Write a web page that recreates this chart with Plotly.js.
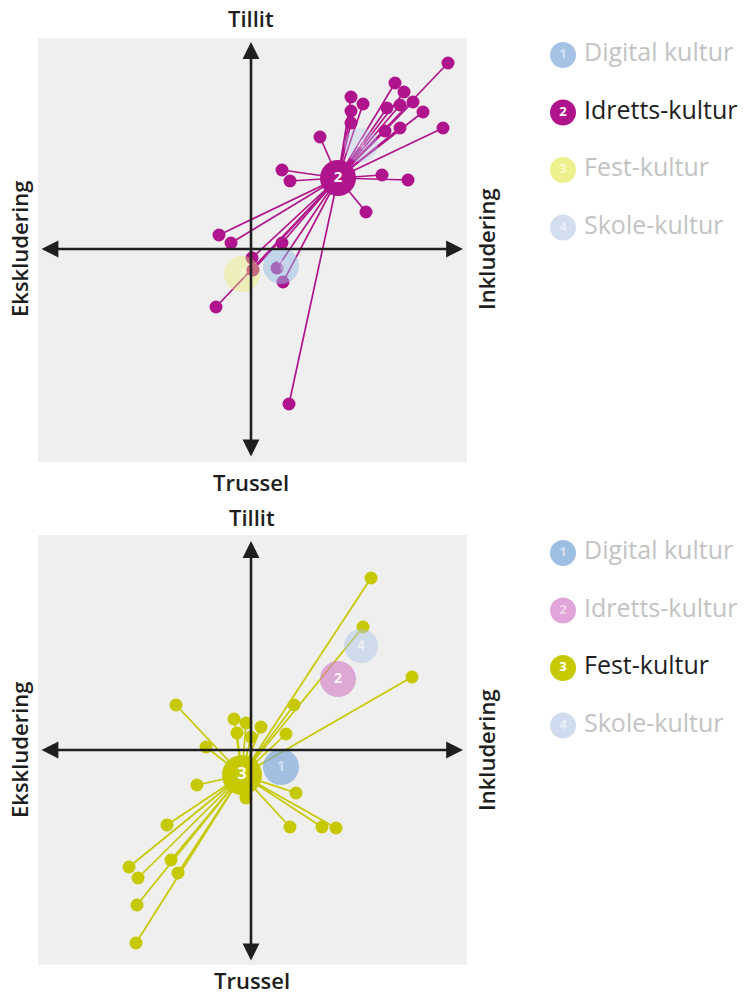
<!DOCTYPE html>
<html>
<head>
<meta charset="utf-8">
<script src="https://cdn.plot.ly/plotly-3.0.1.min.js"></script>
<style>html,body{margin:0;padding:0;background:#fff;}#chart{width:756px;height:997px;}</style>
</head>
<body>
<div id="chart"></div>
<script>
// ---------- DATA ----------
const categories = ['Digital kultur', 'Idretts-kultur', 'Fest-kultur', 'Skole-kultur'];
const categoryNumbers = ['1', '2', '3', '4'];
// cluster centres (Inkludering +x / Tillit +y)
const centroidX = [3.0, 8.7, -0.9, 11.0];
const centroidY = [-1.7, 7.1, -2.5, 10.4];

// Idretts-kultur individual points (top chart)
const idrettX = [19.7, 14.4, 15.3, 10.0, 11.2, 16.2, 13.6, 14.9, 10.0, 17.2, 10.0, 19.2, 14.9, 13.4, 6.9,
                 3.1, 3.9, 13.1, 15.7, 11.5, -3.2, -2.0, 3.1, 0.1, 0.2, 2.6, 3.2, -3.5, 3.8];
const idrettY = [18.6, 16.6, 15.7, 15.2, 14.5, 14.7, 14.1, 14.4, 13.8, 13.7, 12.6, 12.1, 12.1, 11.8, 11.2,
                 7.9, 6.8, 7.4, 6.9, 3.7, 1.4, 0.6, 0.6, -0.9, -2.1, -1.9, -3.3, -5.8, -15.5];

// Fest-kultur individual points (bottom chart)
const festX = [12.0, 11.2, 16.1, -7.5, 4.3, -1.7, -0.5, 1.0, -1.4, 3.5, -4.5, 0.0, -5.4, 4.5, -8.4, 3.9,
               7.1, 8.5, -12.2, -11.3, -8.0, -7.3, -11.4, -11.5, -0.5];
const festY = [17.2, 12.3, 7.3, 4.5, 4.5, 3.1, 2.7, 2.3, 1.7, 1.6, 0.3, 1.3, -3.5, -4.3, -7.5, -7.7,
               -7.7, -7.8, -11.7, -12.8, -11.0, -12.3, -15.5, -19.3, -4.8];

const axisLabels = {top: 'Tillit', bottom: 'Trussel', left: 'Ekskludering', right: 'Inkludering'};

// ---------- STYLE ----------
const W = 756, H = 997;
const MAGENTA = '#b0148c';
const YELLOW = '#c6c900';
const FONT = 'Open Sans, Lato, sans-serif';
const px2x = p => p / W;
const py2y = p => 1 - p / H;

function spokes(cx, cy, xs, ys) {
  const lx = [], ly = [];
  xs.forEach((x, i) => { lx.push(cx, x, null); ly.push(cy, ys[i], null); });
  return {lx, ly};
}

const traces = [];

// ---------- TOP PANEL (Idretts-kultur active) ----------
{
  const a = 1;
  const s = spokes(centroidX[a], centroidY[a], idrettX, idrettY);
  traces.push({x: s.lx, y: s.ly, xaxis: 'x', yaxis: 'y', mode: 'lines', type: 'scatter',
    line: {color: MAGENTA, width: 1.7}, hoverinfo: 'skip', showlegend: false});
  traces.push({x: idrettX, y: idrettY, xaxis: 'x', yaxis: 'y', mode: 'markers', type: 'scatter',
    marker: {color: MAGENTA, size: 13}, showlegend: false});
  traces.push({x: [centroidX[a]], y: [centroidY[a]], xaxis: 'x', yaxis: 'y', mode: 'markers+text', type: 'scatter',
    marker: {color: MAGENTA, size: 36}, text: [categoryNumbers[a]], textposition: 'middle center',
    textfont: {color: '#fff', size: 15, family: FONT, weight: 700}, showlegend: false});
  const fadedTop = [
    {i: 0, c: 'rgba(150,188,228,0.5)', size: 36},
    {i: 2, c: 'rgba(238,238,110,0.4)', size: 36},
    {i: 3, c: 'rgba(185,205,238,0.35)', size: 34}
  ];
  fadedTop.forEach(f => traces.push({x: [centroidX[f.i]], y: [centroidY[f.i]], xaxis: 'x', yaxis: 'y',
    mode: 'markers+text', type: 'scatter', marker: {color: f.c, size: f.size}, text: [categoryNumbers[f.i]],
    textposition: 'middle center', textfont: {color: 'rgba(255,255,255,0.35)', size: 14, family: FONT, weight: 700},
    showlegend: false}));
}

// ---------- BOTTOM PANEL (Fest-kultur active) ----------
{
  const a = 2;
  const s = spokes(centroidX[a], centroidY[a], festX, festY);
  traces.push({x: s.lx, y: s.ly, xaxis: 'x2', yaxis: 'y2', mode: 'lines', type: 'scatter',
    line: {color: YELLOW, width: 1.7}, hoverinfo: 'skip', showlegend: false});
  traces.push({x: festX, y: festY, xaxis: 'x2', yaxis: 'y2', mode: 'markers', type: 'scatter',
    marker: {color: YELLOW, size: 13}, showlegend: false});
  traces.push({x: [centroidX[a]], y: [centroidY[a]], xaxis: 'x2', yaxis: 'y2', mode: 'markers+text', type: 'scatter',
    marker: {color: YELLOW, size: 40}, text: [categoryNumbers[a]], textposition: 'middle center',
    textfont: {color: '#fff', size: 16, family: FONT, weight: 700}, showlegend: false});
  const fadedBot = [
    {i: 0, c: 'rgba(120,165,218,0.65)', size: 36, t: 'rgba(255,255,255,0.5)'},
    {i: 1, c: 'rgba(210,120,195,0.6)', size: 36, t: 'rgba(255,255,255,0.9)'},
    {i: 3, c: 'rgba(175,198,232,0.5)', size: 34, t: 'rgba(255,255,255,0.6)'}
  ];
  fadedBot.forEach(f => traces.push({x: [centroidX[f.i]], y: [centroidY[f.i]], xaxis: 'x2', yaxis: 'y2',
    mode: 'markers+text', type: 'scatter', marker: {color: f.c, size: f.size}, text: [categoryNumbers[f.i]],
    textposition: 'middle center', textfont: {color: f.t, size: 14, family: FONT, weight: 700},
    showlegend: false}));
}

// ---------- LEGENDS (overlay full-page axis x3/y3 in pixels) ----------
const legendColors = [
  ['#a6c3e6', MAGENTA, '#eef08e', '#d3def0'],
  ['#9ebee3', '#e2a5d9', YELLOW, '#cfdbef']
];
const legendActive = [1, 2];
const legendTop = [55, 553];
const legendStep = 57.5;
[0, 1].forEach(p => {
  const ys = categories.map((c, i) => legendTop[p] + i * legendStep);
  const xs = categories.map(() => 563);
  traces.push({x: xs, y: ys, xaxis: 'x3', yaxis: 'y3', mode: 'markers+text', type: 'scatter',
    marker: {color: legendColors[p], size: 26}, text: categoryNumbers, textposition: 'middle center',
    textfont: {color: categories.map((c, i) => i === legendActive[p] ? '#fff' : 'rgba(255,255,255,0.55)'),
      size: 13, family: FONT, weight: 700}, showlegend: false, hoverinfo: 'skip'});
  traces.push({x: categories.map(() => 584), y: ys, xaxis: 'x3', yaxis: 'y3', mode: 'text', type: 'scatter',
    text: categories, textposition: 'middle right',
    textfont: {color: categories.map((c, i) => i === legendActive[p] ? '#1e1e1e' : '#c3c3c3'), size: 25, family: FONT},
    showlegend: false, hoverinfo: 'skip'});
});

// ---------- LAYOUT ----------
const xDom = [px2x(38), px2x(467)];
const topDom = [py2y(462), py2y(38)];
const botDom = [py2y(965), py2y(535)];
const hiddenAxis = (dom, range, anchor) => ({domain: dom, range: range, anchor: anchor, showgrid: false,
  zeroline: false, showticklabels: false, ticks: '', showline: false, fixedrange: true});

const layout = {
  width: W, height: H,
  margin: {l: 0, r: 0, t: 0, b: 0},
  paper_bgcolor: '#ffffff',
  plot_bgcolor: 'rgba(0,0,0,0)',
  showlegend: false,
  xaxis: hiddenAxis(xDom, [-21.3, 21.6], 'y'),
  yaxis: hiddenAxis(topDom, [-21.3, 21.1], 'x'),
  xaxis2: hiddenAxis(xDom, [-21.3, 21.6], 'y2'),
  yaxis2: hiddenAxis(botDom, [-21.5, 21.5], 'x2'),
  xaxis3: hiddenAxis([0, 1], [0, W], 'y3'),
  yaxis3: hiddenAxis([0, 1], [H, 0], 'x3'),
  shapes: [
    {type: 'rect', xref: 'x domain', yref: 'y domain', x0: 0, x1: 1, y0: 0, y1: 1,
      fillcolor: '#efefef', line: {width: 0}, layer: 'below'},
    {type: 'rect', xref: 'x2 domain', yref: 'y2 domain', x0: 0, x1: 1, y0: 0, y1: 1,
      fillcolor: '#efefef', line: {width: 0}, layer: 'below'}
  ],
  annotations: []
};

// axis arrows (drawn via the panels' own data axes)
const arrowStyle = {text: '', showarrow: true, arrowhead: 2, arrowside: 'end+start', arrowsize: 1.3,
  arrowwidth: 2.6, arrowcolor: '#1f1f1f', standoff: 0, startstandoff: 0};
[['x', 'y', 20.7, -20.9], ['x2', 'y2', 20.9, -21.2]].forEach(([xa, ya, yt, yb]) => {
  layout.annotations.push(Object.assign({}, arrowStyle, {xref: xa, yref: ya, axref: xa, ayref: ya,
    x: 0, y: yt, ax: 0, ay: yb}));
  layout.annotations.push(Object.assign({}, arrowStyle, {xref: xa, yref: ya, axref: xa, ayref: ya,
    x: 21.2, y: 0, ax: -21.1, ay: 0}));
});

// axis labels
const lblFont = {family: FONT, size: 22, color: '#1e1e1e', weight: 600};
[[18, 482, 249, 251], [517, 980, 750, 252]].forEach(([ty, by, my, cx]) => {
  layout.annotations.push({xref: 'paper', yref: 'paper', x: px2x(cx), y: py2y(ty), text: axisLabels.top,
    showarrow: false, font: lblFont, xanchor: 'center', yanchor: 'middle'});
  layout.annotations.push({xref: 'paper', yref: 'paper', x: px2x(cx), y: py2y(by), text: axisLabels.bottom,
    showarrow: false, font: lblFont, xanchor: 'center', yanchor: 'middle'});
  layout.annotations.push({xref: 'paper', yref: 'paper', x: px2x(19), y: py2y(my), text: axisLabels.left,
    showarrow: false, font: lblFont, textangle: -90, xanchor: 'center', yanchor: 'middle'});
  layout.annotations.push({xref: 'paper', yref: 'paper', x: px2x(486), y: py2y(my), text: axisLabels.right,
    showarrow: false, font: lblFont, textangle: -90, xanchor: 'center', yanchor: 'middle'});
});

Plotly.newPlot('chart', traces, layout, {staticPlot: true, displayModeBar: false});
</script>
</body>
</html>
